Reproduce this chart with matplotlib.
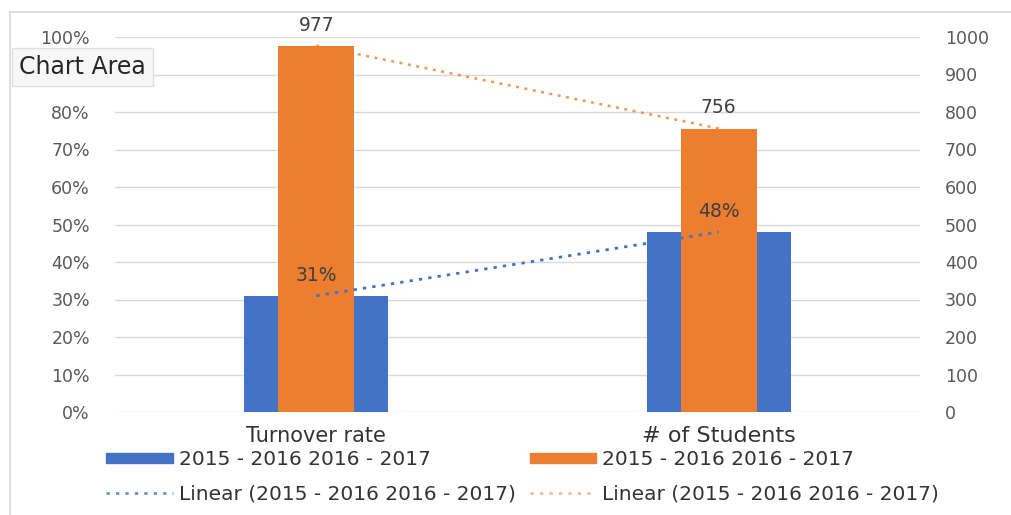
import numpy as np
import matplotlib
matplotlib.use("Agg")
import matplotlib.pyplot as plt
from matplotlib.patches import Patch
from matplotlib.lines import Line2D

categories = ["Turnover rate", "# of Students"]
rate_values = [0.31, 0.48]
student_values = [977, 756]
rate_labels = ["31%", "48%"]
student_labels = ["977", "756"]
left_ticks = [0, 0.1, 0.2, 0.3, 0.4, 0.5, 0.6, 0.7, 0.8, 0.9, 1.0]
right_ticks = [0, 100, 200, 300, 400, 500, 600, 700, 800, 900, 1000]
series_name = "2015 - 2016 2016 - 2017"

BLUE = "#4472C4"
ORANGE = "#ED7D31"
GRID = "#d9d9d9"
TXT = "#595959"
DOT = (0, (1.2, 2.2))

fig = plt.figure(figsize=(10.12, 5.15), dpi=100)
ax = fig.add_axes([115/1012, 1-412/515, (920-115)/1012, (412-37)/515])
ax2 = ax.twinx()

x = np.arange(len(categories))
ax.set_xlim(-0.5, 1.5)
ax.set_ylim(0, 1.0)
ax2.set_ylim(0, 1000)

# blue bars (left axis), orange bars (right axis) drawn in front
ax2.bar(x, rate_values, width=0.358, color=BLUE, zorder=2, transform=ax.transData)
ax2.bar(x, student_values, width=0.19, color=ORANGE, zorder=3)

# linear trendlines
p1 = np.polyfit(x, rate_values, 1)
p2 = np.polyfit(x, student_values, 1)
ax2.plot(x, np.polyval(p1, x), color=BLUE, ls=DOT, lw=2, zorder=4, transform=ax.transData)
ax2.plot(x, np.polyval(p2, x), color=ORANGE, ls=DOT, lw=1.8, alpha=0.8, zorder=4)

ax.set_yticks(left_ticks)
ax.set_yticklabels([f"{int(round(t*100))}%" for t in left_ticks])
ax2.set_yticks(right_ticks)
ax2.set_yticklabels([str(t) for t in right_ticks])
ax.set_xticks(x)
ax.set_xticklabels(categories, color="#333333")
xt = ax.get_xticklabels()
xt[0].set_fontsize(15)
xt[1].set_fontsize(16)
ax.tick_params(axis="x", length=0, pad=10)
ax.tick_params(axis="y", length=0, pad=18, labelsize=12.5, labelcolor=TXT)
ax2.tick_params(axis="y", length=0, pad=18, labelsize=12.5, labelcolor=TXT)
ax.grid(axis="y", color=GRID, lw=1, zorder=0)
ax.set_axisbelow(True)
for a in (ax, ax2):
    for s in a.spines.values():
        s.set_visible(False)

for i in range(len(categories)):
    ax2.annotate(rate_labels[i], (x[i], rate_values[i]), xycoords=ax.transData,
                 xytext=(0, 8), textcoords="offset points",
                 ha="center", va="bottom", fontsize=13.5, color="#404040", zorder=5)
    ax2.annotate(student_labels[i], (x[i], student_values[i]), xytext=(0, 8), textcoords="offset points",
                 ha="center", va="bottom", fontsize=13.5, color="#404040", zorder=5, annotation_clip=False)

handles = [Patch(color=BLUE),
           Line2D([0], [0], color=BLUE, ls=DOT, lw=2, alpha=0.8),
           Patch(color=ORANGE),
           Line2D([0], [0], color=ORANGE, ls=DOT, lw=2, alpha=0.5)]
labels = [series_name, f"Linear ({series_name})", series_name, f"Linear ({series_name})"]
leg = fig.legend(handles, labels, ncol=2, loc="upper left", bbox_to_anchor=(88/1012, 1-432/515),
                 frameon=False, prop={"family": "DejaVu Sans", "size": 14.5}, labelcolor="#333333",
                 handlelength=3.3, handleheight=0.4, handletextpad=0.3, columnspacing=0.7,
                 labelspacing=0.75)

# chart border
fig.add_artist(Line2D([10/1012, 1.0], [1-12/515, 1-12/515], color=GRID, lw=1.2))
fig.add_artist(Line2D([10/1012, 10/1012], [0, 1-12/515], color=GRID, lw=1.2))

# "Chart Area" tooltip
fig.text(19/1012, 1-67/515, "Chart Area", fontsize=17, color="#262626", va="center", ha="left",
         bbox=dict(boxstyle="square,pad=0.3", fc="#f7f7f7", ec="#e0e0e0", lw=1), zorder=10)

fig.savefig("out.png", dpi=100)
